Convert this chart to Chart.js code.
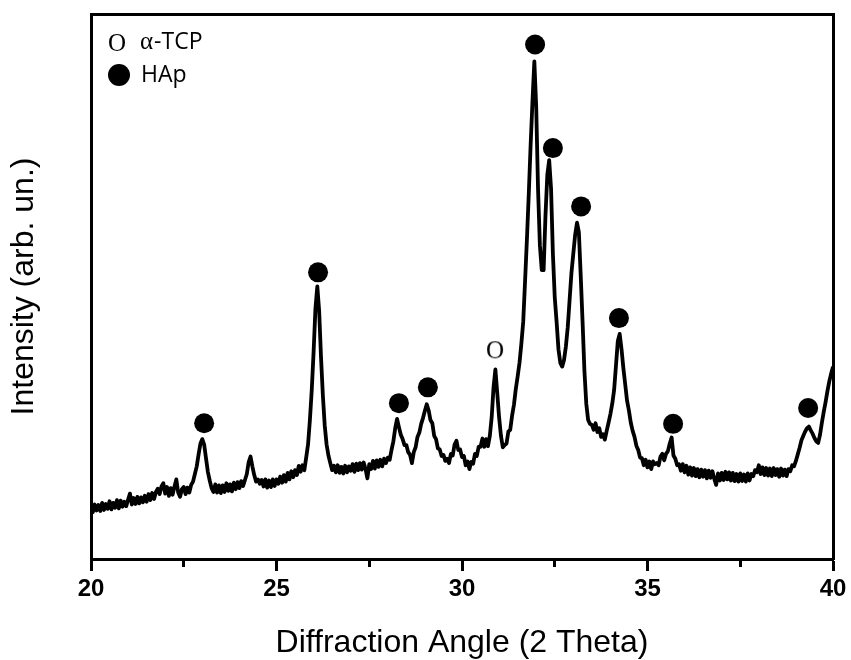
<!DOCTYPE html>
<html>
<head>
<meta charset="utf-8">
<title>XRD pattern</title>
<script src="https://cdn.jsdelivr.net/npm/chart.js@4.4.0/dist/chart.umd.min.js"></script>
<style>
  html, body { margin: 0; padding: 0; background: #ffffff; }
</style>
</head>
<body>
<canvas id="myChart" width="851" height="660"></canvas>
<script>
// diffraction pattern (intensity in arbitrary units, 0..100)
var angle = [
  20.00, 20.05, 20.10, 20.15, 20.20, 20.25, 20.30, 20.35, 20.40, 20.45,
  20.50, 20.55, 20.60, 20.65, 20.70, 20.75, 20.80, 20.85, 20.90, 20.95,
  21.00, 21.05, 21.10, 21.15, 21.20, 21.25, 21.30, 21.35, 21.40, 21.45,
  21.50, 21.55, 21.60, 21.65, 21.70, 21.75, 21.80, 21.85, 21.90, 21.95,
  22.00, 22.05, 22.10, 22.15, 22.20, 22.25, 22.30, 22.35, 22.40, 22.45,
  22.50, 22.55, 22.60, 22.65, 22.70, 22.75, 22.80, 22.85, 22.90, 22.95,
  23.00, 23.05, 23.10, 23.15, 23.20, 23.25, 23.30, 23.35, 23.40, 23.45,
  23.50, 23.55, 23.60, 23.65, 23.70, 23.75, 23.80, 23.85, 23.90, 23.95,
  24.00, 24.05, 24.10, 24.15, 24.20, 24.25, 24.30, 24.35, 24.40, 24.45,
  24.50, 24.55, 24.60, 24.65, 24.70, 24.75, 24.80, 24.85, 24.90, 24.95,
  25.00, 25.05, 25.10, 25.15, 25.20, 25.25, 25.30, 25.35, 25.40, 25.45,
  25.50, 25.55, 25.60, 25.65, 25.70, 25.75, 25.80, 25.85, 25.90, 25.95,
  26.00, 26.05, 26.10, 26.15, 26.20, 26.25, 26.30, 26.35, 26.40, 26.45,
  26.50, 26.55, 26.60, 26.65, 26.70, 26.75, 26.80, 26.85, 26.90, 26.95,
  27.00, 27.05, 27.10, 27.15, 27.20, 27.25, 27.30, 27.35, 27.40, 27.45,
  27.50, 27.55, 27.60, 27.65, 27.70, 27.75, 27.80, 27.85, 27.90, 27.95,
  28.00, 28.05, 28.10, 28.15, 28.20, 28.25, 28.30, 28.35, 28.40, 28.45,
  28.50, 28.55, 28.60, 28.65, 28.70, 28.75, 28.80, 28.85, 28.90, 28.95,
  29.00, 29.05, 29.10, 29.15, 29.20, 29.25, 29.30, 29.35, 29.40, 29.45,
  29.50, 29.55, 29.60, 29.65, 29.70, 29.75, 29.80, 29.85, 29.90, 29.95,
  30.00, 30.05, 30.10, 30.15, 30.20, 30.25, 30.30, 30.35, 30.40, 30.45,
  30.50, 30.55, 30.60, 30.65, 30.70, 30.75, 30.80, 30.85, 30.90, 30.95,
  31.00, 31.05, 31.10, 31.15, 31.20, 31.25, 31.30, 31.35, 31.40, 31.45,
  31.50, 31.55, 31.60, 31.65, 31.70, 31.75, 31.80, 31.85, 31.90, 31.95,
  32.00, 32.05, 32.10, 32.15, 32.20, 32.25, 32.30, 32.35, 32.40, 32.45,
  32.50, 32.55, 32.60, 32.65, 32.70, 32.75, 32.80, 32.85, 32.90, 32.95,
  33.00, 33.05, 33.10, 33.15, 33.20, 33.25, 33.30, 33.35, 33.40, 33.45,
  33.50, 33.55, 33.60, 33.65, 33.70, 33.75, 33.80, 33.85, 33.90, 33.95,
  34.00, 34.05, 34.10, 34.15, 34.20, 34.25, 34.30, 34.35, 34.40, 34.45,
  34.50, 34.55, 34.60, 34.65, 34.70, 34.75, 34.80, 34.85, 34.90, 34.95,
  35.00, 35.05, 35.10, 35.15, 35.20, 35.25, 35.30, 35.35, 35.40, 35.45,
  35.50, 35.55, 35.60, 35.65, 35.70, 35.75, 35.80, 35.85, 35.90, 35.95,
  36.00, 36.05, 36.10, 36.15, 36.20, 36.25, 36.30, 36.35, 36.40, 36.45,
  36.50, 36.55, 36.60, 36.65, 36.70, 36.75, 36.80, 36.85, 36.90, 36.95,
  37.00, 37.05, 37.10, 37.15, 37.20, 37.25, 37.30, 37.35, 37.40, 37.45,
  37.50, 37.55, 37.60, 37.65, 37.70, 37.75, 37.80, 37.85, 37.90, 37.95,
  38.00, 38.05, 38.10, 38.15, 38.20, 38.25, 38.30, 38.35, 38.40, 38.45,
  38.50, 38.55, 38.60, 38.65, 38.70, 38.75, 38.80, 38.85, 38.90, 38.95,
  39.00, 39.05, 39.10, 39.15, 39.20, 39.25, 39.30, 39.35, 39.40, 39.45,
  39.50, 39.55, 39.60, 39.65, 39.70, 39.75, 39.80, 39.85, 39.90, 39.95,
  40.00
];
var intensity = [
  9.8, 8.6, 10.0, 8.9, 9.9, 8.8, 10.3, 9.0, 10.1, 9.2,
  10.6, 9.1, 10.3, 9.4, 10.8, 9.3, 10.7, 9.6, 10.5, 9.7,
  10.9, 12.0, 10.0, 11.2, 10.1, 11.4, 10.2, 11.3, 10.4, 11.6,
  10.5, 11.9, 10.8, 12.1, 11.0, 12.3, 12.9, 11.9, 13.3, 13.9,
  12.0, 13.2, 11.6, 13.0, 11.8, 13.3, 14.6, 12.2, 11.4, 12.8,
  13.2, 11.9, 13.1, 12.2, 13.6, 14.2, 15.6, 17.0, 19.2, 21.2,
  22.0, 21.0, 18.5, 16.0, 14.4, 13.0, 12.3, 13.7, 12.2, 13.5,
  12.1, 13.5, 12.3, 13.9, 12.5, 13.7, 12.4, 14.0, 12.8, 14.1,
  13.0, 14.3, 13.4, 14.5, 15.6, 17.8, 18.8, 17.0, 15.4, 14.2,
  14.6, 13.8, 14.5, 13.3, 14.6, 13.1, 14.4, 13.2, 14.6, 13.4,
  14.6, 13.8, 15.1, 14.0, 15.4, 14.2, 15.8, 14.6, 16.1, 15.0,
  16.3, 15.4, 17.1, 16.0, 17.2, 16.3, 18.6, 21.0, 25.5, 31.0,
  38.0, 46.0, 50.0, 45.5, 37.0, 30.0, 24.5, 21.0, 19.0, 17.6,
  16.3, 17.1, 15.9, 17.2, 15.8, 16.9, 15.7, 17.1, 15.9, 17.0,
  16.2, 17.4, 16.0, 17.5, 16.3, 17.6, 16.4, 17.7, 16.5, 14.8,
  17.4, 16.5, 18.0, 16.6, 18.1, 16.9, 18.2, 17.0, 18.4, 17.6,
  18.6, 18.2, 20.0, 21.6, 24.0, 25.7, 24.2, 22.8, 22.0, 20.9,
  20.9, 19.6, 19.1, 17.6, 19.6, 20.5, 22.4, 23.2, 24.8, 25.9,
  27.2, 28.4, 27.3, 25.5, 24.9, 22.6, 22.0, 20.3, 20.1, 18.9,
  19.1, 18.0, 18.4, 17.6, 19.3, 19.0, 21.0, 21.7, 20.0, 20.1,
  18.7, 18.9, 17.2, 17.9, 16.5, 17.8, 17.5, 19.3, 18.9, 20.6,
  20.6, 22.1, 20.6, 22.0, 20.7, 22.6, 26.0, 31.5, 34.8, 30.5,
  26.0, 22.6, 20.5, 20.9, 21.2, 23.4, 23.7, 26.3, 28.3, 31.2,
  33.5, 36.0, 39.5, 43.5, 51.0, 58.7, 67.0, 76.0, 84.0, 91.3,
  83.0, 67.8, 57.5, 53.0, 53.0, 63.0, 70.5, 73.2, 68.0, 56.0,
  48.0, 43.5, 38.5, 36.0, 35.3, 36.5, 39.0, 42.5, 47.5, 52.5,
  56.0, 59.5, 61.7, 60.0, 52.0, 43.5, 34.5, 28.5, 25.5, 24.8,
  24.6, 23.7, 24.9, 23.3, 24.0, 22.4, 22.9, 21.9, 23.5, 25.0,
  26.6, 28.5, 31.0, 35.5, 40.0, 41.3, 38.5, 35.0, 32.0, 29.0,
  27.2, 25.0, 23.5, 22.4, 20.8, 20.0, 18.6, 18.5, 17.2, 18.2,
  16.8, 17.9, 16.5, 17.9, 17.4, 17.6, 17.2, 18.8, 19.3, 18.1,
  19.3, 19.8, 21.2, 22.3, 19.0, 18.4, 17.2, 17.4, 16.2, 17.4,
  15.9, 17.1, 15.5, 16.8, 15.3, 16.7, 15.2, 16.5, 15.0, 16.4,
  15.1, 16.3, 14.8, 16.2, 14.9, 16.1, 14.7, 13.6, 15.7, 14.4,
  15.8, 14.5, 16.0, 14.6, 15.9, 14.4, 15.8, 14.3, 15.6, 14.2,
  15.7, 14.3, 15.5, 14.2, 15.7, 14.4, 15.6, 15.2, 16.3, 15.9,
  17.2, 15.6, 16.8, 15.4, 16.7, 15.3, 16.6, 15.2, 16.7, 15.4,
  16.5, 15.1, 16.6, 15.3, 16.4, 15.2, 16.5, 16.1, 17.2, 17.0,
  18.0, 19.2, 20.4, 21.8, 22.6, 23.4, 24.0, 24.3, 23.6, 23.0,
  22.2, 21.6, 21.3, 22.8, 25.0, 27.0, 28.8, 30.8, 32.6, 34.0,
  35.3
];

// peak markers
var hapAngle = [23.05, 26.12, 28.30, 29.08, 31.97, 32.45, 33.21, 34.23, 35.69, 39.33];
var hapPeak  = [24.9, 52.6, 28.6, 31.5, 94.4, 75.4, 64.7, 44.2, 24.8, 27.7];
var tcpAngle = [30.89];
var tcpPeak  = [38.3];

var legendLabels = ['α-TCP', 'HAp'];
var xTicks = [20, 25, 30, 35, 40];

function toPoints(xs, ys) {
  var out = [];
  for (var i = 0; i < xs.length; i++) out.push({x: xs[i], y: ys[i]});
  return out;
}

// hollow "O" glyph used as the alpha-TCP marker
function makeO() {
  var c = document.createElement('canvas');
  c.width = 26; c.height = 26;
  var g = c.getContext('2d');
  g.fillStyle = '#000';
  g.font = '25px "Liberation Serif"';
  g.textAlign = 'center';
  g.textBaseline = 'alphabetic';
  g.fillText('O', 13, 13 + 0.662 * 25 / 2);
  return c;
}
var oMark = makeO();

var markerLegend = {
  id: 'markerLegend',
  afterDraw: function (chart) {
    var ctx = chart.ctx, a = chart.chartArea;
    ctx.save();
    ctx.fillStyle = '#000';
    ctx.textBaseline = 'alphabetic';
    ctx.textAlign = 'left';
    // row 1
    ctx.drawImage(oMark, a.left + 26 - 13, a.top + 29 - 13);
    var lab = legendLabels[0];
    var x = a.left + 49;
    ctx.font = '25px "Liberation Serif"';
    ctx.fillText(lab.charAt(0), x, a.top + 35);
    x += ctx.measureText(lab.charAt(0)).width + 1;
    ctx.font = '23px "Open Sans"';
    ctx.fillText(lab.slice(1), x, a.top + 35);
    // row 2
    ctx.beginPath();
    ctx.arc(a.left + 28, a.top + 61, 11, 0, Math.PI * 2);
    ctx.fill();
    ctx.fillText(legendLabels[1], a.left + 50, a.top + 68);
    ctx.restore();
  }
};

new Chart('myChart', {
  type: 'line',
  data: {
    datasets: [{
      label: 'HAp',
      type: 'scatter',
      data: toPoints(hapAngle, hapPeak),
      pointStyle: 'circle',
      pointRadius: 10,
      pointBorderWidth: 0,
      backgroundColor: '#000',
      borderColor: '#000'
    }, {
      label: 'α-TCP',
      type: 'scatter',
      data: toPoints(tcpAngle, tcpPeak),
      pointStyle: oMark,
      pointRadius: 13
    }, {
      label: 'pattern',
      data: toPoints(angle, intensity),
      borderColor: '#000',
      borderWidth: 3.8,
      borderJoinStyle: 'round',
      pointRadius: 0,
      tension: 0,
      fill: false
    }]
  },
  plugins: [markerLegend],
  options: {
    responsive: false,
    animation: false,
    layout: { padding: { top: 10, right: 18, left: 0, bottom: 0 } },
    plugins: {
      legend: { display: false },
      tooltip: { enabled: false }
    },
    scales: {
      x: {
        type: 'linear',
        position: 'bottom',
        min: 20,
        max: 40,
        afterFit: function (s) { s.height = 101; },
        ticks: {
          stepSize: 2.5,
          autoSkip: false,
          maxRotation: 0,
          padding: 4,
          color: '#000',
          font: { family: '"Liberation Sans", Arial, sans-serif', size: 24, weight: 'bold' },
          callback: function (v) { return xTicks.indexOf(v) >= 0 ? String(v) : ''; }
        },
        grid: {
          drawOnChartArea: false,
          drawTicks: true,
          tickLength: 12,
          tickWidth: 3,
          tickColor: '#000',
          tickBorderDash: function (c) {
            return (c.tick && xTicks.indexOf(c.tick.value) >= 0) ? [] : [6, 40];
          }
        },
        border: { display: true, color: '#000', width: 3 },
        title: {
          display: true,
          text: 'Diffraction Angle (2 Theta)',
          color: '#000',
          padding: { top: 0, bottom: 0 },
          font: { family: '"Liberation Sans", Arial, sans-serif', size: 32, lineHeight: 1.05 }
        }
      },
      x2: {
        type: 'linear',
        position: 'top',
        min: 20,
        max: 40,
        afterFit: function (s) { s.height = 0; },
        ticks: { display: false },
        grid: { display: false },
        border: { display: true, color: '#000', width: 3 }
      },
      y: {
        type: 'linear',
        position: 'left',
        min: 0,
        max: 100,
        afterFit: function (s) { s.width = 91; },
        ticks: { display: false },
        grid: { display: false },
        border: { display: true, color: '#000', width: 3 },
        title: {
          display: true,
          text: 'Intensity (arb. un.)',
          color: '#000',
          padding: { top: 7, bottom: 0 },
          font: { family: '"Liberation Sans", Arial, sans-serif', size: 32, lineHeight: 1.05 }
        }
      },
      y2: {
        type: 'linear',
        position: 'right',
        min: 0,
        max: 100,
        afterFit: function (s) { s.width = 0; },
        ticks: { display: false },
        grid: { display: false },
        border: { display: true, color: '#000', width: 3 }
      }
    }
  }
});
</script>
</body>
</html>
